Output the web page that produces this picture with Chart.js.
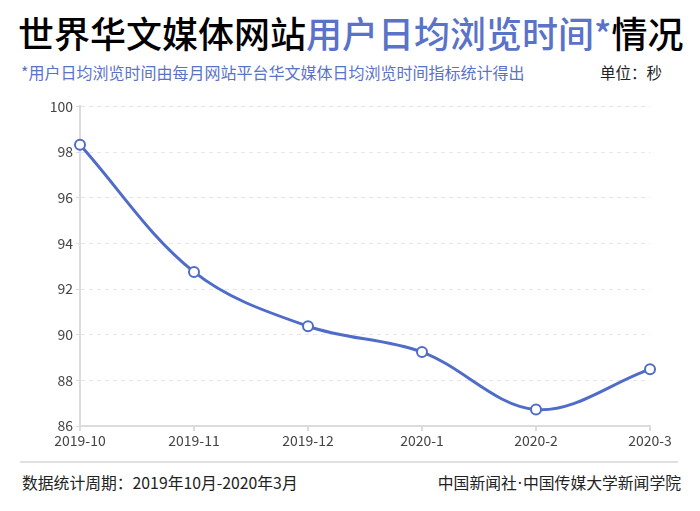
<!DOCTYPE html>
<html><head><meta charset="utf-8">
<script src="https://cdn.jsdelivr.net/npm/chart.js@4"></script>
<style>
html,body{margin:0;padding:0;background:#fff;width:700px;height:511px;overflow:hidden;font-family:"Noto Sans CJK SC","Noto Sans",sans-serif;}
.t{position:absolute;white-space:nowrap;}
#title{left:18px;top:8px;font-size:36px;font-weight:500;color:#000;line-height:48px;}
#title .b{color:#5a72c8;}
#sub{left:21px;top:61px;font-size:16px;color:#5a72c8;line-height:22px;}
#unit{left:600px;top:61px;font-size:15.5px;color:#222;line-height:22px;}
#sep{position:absolute;left:20px;top:461px;width:658px;height:2px;background:#e0e0e0;}
#fl{left:22px;top:472px;font-size:15.8px;color:#222;line-height:22px;}
#fr{right:19px;top:472px;font-size:15.8px;color:#222;line-height:22px;}
#fr .d{font-family:"Noto Sans",sans-serif;margin:0 1px;}
#wrap{position:absolute;left:0;top:95px;width:700px;height:365px;}
</style></head>
<body>
<div id="title" class="t">世界华文媒体网站<span class="b">用户日均浏览时间*</span>情况</div>
<div id="sub" class="t">*用户日均浏览时间由每月网站平台华文媒体日均浏览时间指标统计得出</div>
<div id="unit" class="t">单位：秒</div>
<div id="wrap"><canvas id="c"></canvas></div>
<div id="sep"></div>
<div id="fl" class="t">数据统计周期：2019年10月-2020年3月</div>
<div id="fr" class="t">中国新闻社<span class="d">·</span>中国传媒大学新闻学院</div>
<script>
const categories = ["2019-10","2019-11","2019-12","2020-1","2020-2","2020-3"];
const values = [98.32, 92.75, 90.37, 89.24, 86.72, 88.49];
const yTicks = [86,88,90,92,94,96,98,100];

const FONT = '"Noto Sans CJK SC","Noto Sans",sans-serif';
new Chart(document.getElementById('c'), {
  type: 'line',
  data: {
    labels: categories,
    datasets: [{
      data: values,
      borderColor: '#4f6cc9',
      borderWidth: 3,
      tension: 0.35,
      pointRadius: 5,
      pointBorderWidth: 2,
      pointBackgroundColor: '#fff',
      pointBorderColor: '#4f6cc9',
      fill: false
    }]
  },
  options: {
    responsive: true,
    maintainAspectRatio: false,
    animation: false,
    layout: { padding: { top: 11, right: 50, left: 0, bottom: 0 } },
    plugins: { legend: { display: false }, tooltip: { enabled: false } },
    scales: {
      x: {
        offset: false,
        grid: { drawOnChartArea: false, tickLength: 5, color: '#dcdcdc', lineWidth: 2 },
        border: { color: '#dcdcdc', width: 2 },
        ticks: { color: '#444', font: { family: FONT, size: 14 }, padding: 1, maxRotation: 0, autoSkip: false },
        afterFit(s) { s.height = 34; }
      },
      y: {
        min: 86, max: 100,
        afterBuildTicks(s) { s.ticks = yTicks.map(v => ({ value: v })); },
        grid: { color: '#e6e6e6', lineWidth: 1, tickLength: 4, tickColor: '#dcdcdc', tickBorderDash: [] },
        border: { color: '#dcdcdc', width: 2, dash: [4, 4] },
        ticks: { color: '#444', font: { family: FONT, size: 14 }, padding: 3 },
        afterFit(s) { s.width = 80; }
      }
    }
  }
});
</script>
</body></html>
